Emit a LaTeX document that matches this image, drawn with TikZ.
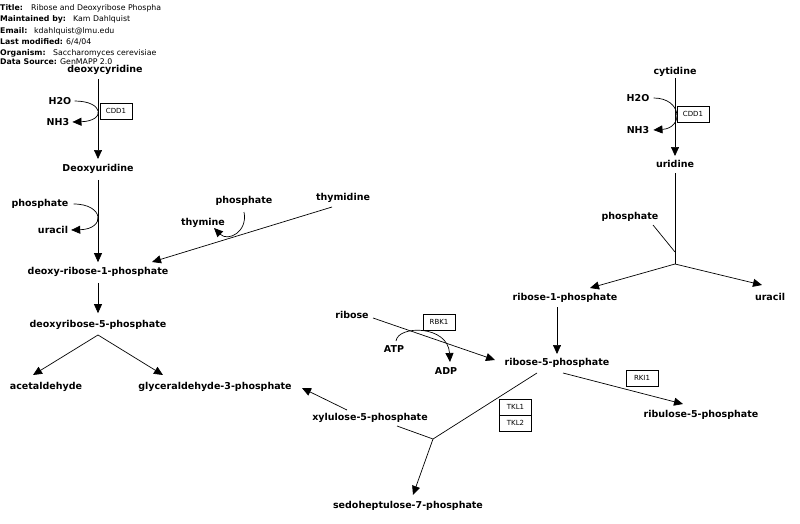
\documentclass[tikz,border=0pt]{standalone}
\usepackage{fontspec}
\newfontfamily\dvs{DejaVu Sans}
\usetikzlibrary{arrows.meta}
\newcommand\metfont{\dvs\bfseries\fontsize{9.5}{11}\selectfont}
\newcommand\genefont{\dvs\fontsize{7}{8}\selectfont}
\newcommand\hdrfont{\dvs\fontsize{7.8}{9}\selectfont}
\begin{document}
\begin{tikzpicture}[x=1pt,y=-1pt,
  met/.style={font=\metfont, inner sep=0pt},
  gene/.style={draw, font=\genefont, minimum width=32pt, minimum height=16pt, inner sep=0pt, line width=0.6pt},
  hdr/.style={font=\hdrfont, anchor=base west, inner sep=0pt},
  ln/.style={line width=0.7pt},
  arr/.style={ln, -{Triangle[length=9pt,width=8pt]}}]
\useasboundingbox (0,0) rectangle (800,524);
% ---------- header ----------
\begin{scope}
\clip (0,0) rectangle (160,14);
\node[hdr] (t1) at (0,11) {\bfseries Title:};
\node[hdr] (t1v) at (31,11) {Ribose and Deoxyribose Phospha};
\end{scope}
\node[hdr] (t2) at (0,22) {\bfseries Maintained by:};
\node[hdr] (t2v) at (73,22) {Kam Dahlquist};
\node[hdr] (t3) at (0,33.5) {\bfseries Email:};
\node[hdr] (t3v) at (34,33.5) {kdahlquist@lmu.edu};
\node[hdr] (t4) at (0,44.5) {\bfseries Last modified:};
\node[hdr] (t4v) at (66,44.5) {6/4/04};
\node[hdr] (t5) at (0,55.5) {\bfseries Organism:};
\node[hdr] (t5v) at (53,55.5) {Saccharomyces cerevisiae};
\node[hdr] (t6) at (0,64.5) {\bfseries Data Source:};
\node[hdr] (t6v) at (60,64.5) {GenMAPP 2.0};
% ---------- left pathway ----------
\node[met] (dcyt) at (105,69.5) {deoxycyridine};
\node[met] (h2oA) at (60,101) {H2O};
\node[met] (nh3A) at (58,122) {NH3};
\node[gene] (cdd1A) at (116,111) {CDD1};
\node[met] (dur) at (98,169) {Deoxyuridine};
\node[met] (phA) at (40,204) {phosphate};
\node[met] (urA) at (53,230) {uracil};
\node[met] (phB) at (244,201) {phosphate};
\node[met] (thy) at (203,223) {thymine};
\node[met] (thd) at (343,198) {thymidine};
\node[met] (dr1p) at (98,272) {deoxy-ribose-1-phosphate};
\node[met] (dr5p) at (98,325) {deoxyribose-5-phosphate};
\node[met] (acet) at (46,387) {acetaldehyde};
\node[met] (g3p) at (215,387) {glyceraldehyde-3-phosphate};

\coordinate (dcytOut) at (98,79);
\coordinate (durIn) at (98,159);
\draw[arr] (dcytOut) -- (durIn);
\draw[arr] ([xshift=3pt]h2oA.east) .. controls (104,101) and (106,121) .. ([xshift=3pt]nh3A.east);
\draw[arr, shorten <=6pt, shorten >=5pt] (dur) -- (dr1p);
\draw[arr] ([xshift=5pt]phA.east) .. controls (104,204) and (106,229) .. ([xshift=3pt]urA.east);
\coordinate (thdOut) at (332,207);
\coordinate (dr1pIn) at (152,262);
\draw[arr] (thdOut) -- (dr1pIn);
\coordinate (phBOut) at (244,212);
\coordinate (thyIn) at (214,228);
\draw[arr] (phBOut) .. controls (248,232) and (228,242) .. (thyIn);
\draw[arr, shorten <=6pt, shorten >=7pt] (dr1p) -- (dr5p);
\coordinate (dr5pFork) at (98,335);
\coordinate (acetIn) at (33,375);
\coordinate (g3pIn) at (163,375);
\draw[arr] (dr5pFork) -- (acetIn);
\draw[arr] (dr5pFork) -- (g3pIn);
% ---------- right pathway ----------
\node[met] (cyt) at (675,72) {cytidine};
\node[met] (h2oB) at (638,98) {H2O};
\node[met] (nh3B) at (638,130) {NH3};
\node[gene] (cdd1B) at (693,114) {CDD1};
\node[met] (uri) at (675,164) {uridine};
\node[met] (phC) at (630,217) {phosphate};
\node[met] (urB) at (770,297) {uracil};
\node[met] (r1p) at (565,298) {ribose-1-phosphate};
\node[met] (rib) at (352,315) {ribose};
\node[gene] (rbk1) at (439,322) {RBK1};
\node[met] (atp) at (394,349) {ATP};
\node[met] (adp) at (446,371) {ADP};
\node[met] (r5p) at (557,363) {ribose-5-phosphate};
\node[gene] (rki1) at (642,378) {RKI1};
\node[met] (ru5p) at (701,415) {ribulose-5-phosphate};
\node[met] (x5p) at (370,418) {xylulose-5-phosphate};
\node[gene] (tkl1) at (515.5,407) {TKL1};
\node[gene] (tkl2) at (515.5,423) {TKL2};
\node[met] (s7p) at (408,506) {sedoheptulose-7-phosphate};

\coordinate (cytOut) at (675,78);
\coordinate (uriIn) at (675,156);
\draw[arr] (cytOut) -- (uriIn);
\draw[arr] ([xshift=4pt]h2oB.east) .. controls (682,98) and (684,128) .. ([xshift=4pt]nh3B.east);
\coordinate (uriOut) at (675,173);
\coordinate (jR) at (675,264);
\coordinate (phCJoin) at (675,252);
\coordinate (phCOut) at (653,225);
\draw[ln] (uriOut) -- (jR);
\draw[ln] (phCOut) -- (phCJoin);
\coordinate (r1pIn) at (590,288);
\coordinate (urBIn) at (762,285);
\draw[arr] (jR) -- (r1pIn);
\draw[arr] (jR) -- (urBIn);
\coordinate (r1pOut) at (557,307);
\coordinate (r5pInA) at (557,354);
\draw[arr] (r1pOut) -- (r5pInA);
\coordinate (ribOut) at (373,318);
\coordinate (r5pIn) at (495,360);
\draw[arr] (ribOut) -- (r5pIn);
\coordinate (atpOut) at (396,341);
\coordinate (adpIn) at (450,362);
\draw[arr] (atpOut) .. controls (398,325) and (448,325) .. (adpIn);
\coordinate (r5pOutA) at (537,373);
\coordinate (jT) at (433,439);
\coordinate (x5pJoin) at (397,426);
\coordinate (s7pIn) at (413,495);
\draw[ln] (r5pOutA) -- (jT) -- (x5pJoin);
\draw[arr] (jT) -- (s7pIn);
\coordinate (x5pOut) at (347,410);
\coordinate (g3pInB) at (302,388);
\draw[arr] (x5pOut) -- (g3pInB);
\coordinate (r5pOutB) at (563,373);
\coordinate (ru5pIn) at (683,404);
\draw[arr] (r5pOutB) -- (ru5pIn);
\end{tikzpicture}
\end{document}
